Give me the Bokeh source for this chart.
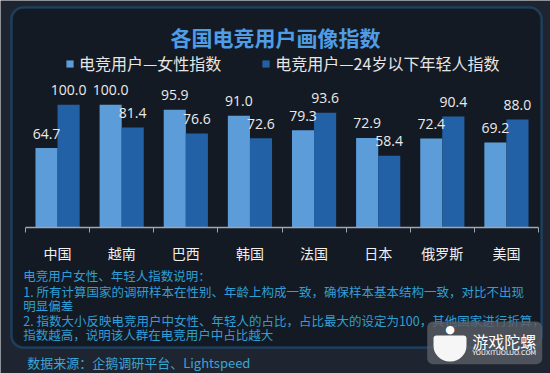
from bokeh.plotting import figure
from bokeh.models import (ColumnDataSource, Range1d, LinearAxis, FixedTicker,
                          LabelSet, Label, Legend, LegendItem, BoxAnnotation)
from bokeh.core.properties import value
from bokeh.transform import dodge
from bokeh.embed import file_html
from bokeh.resources import INLINE

# ---------------- data ----------------
countries = ["中国", "越南", "巴西", "韩国", "法国", "日本", "俄罗斯", "美国"]
female_index = [64.7, 100.0, 95.9, 91.0, 79.3, 72.9, 72.4, 69.2]
youth_index = [100.0, 81.4, 76.6, 72.6, 93.6, 58.4, 90.4, 88.0]
series_names = ["电竞用户—女性指数", "电竞用户—24岁以下年轻人指数"]
title_text = "各国电竞用户画像指数"
note_lines = [
    "电竞用户女性、年轻人指数说明：",
    "1. 所有计算国家的调研样本在性别、年龄上构成一致，确保样本基本结构一致，对比不出现",
    "明显偏差",
    "2. 指数大小反映电竞用户中女性、年轻人的占比，占比最大的设定为100，其他国家进行折算，",
    "指数越高，说明该人群在电竞用户中占比越大",
]
source_text = "数据来源：企鹅调研平台、Lightspeed"
watermark_text = "游戏陀螺"
watermark_sub = "YOUXITUOLUO.COM"

CJK = "Noto Sans CJK SC"
OUTER_BG = "#1e2530"
INNER_BG = "#141a23"
LIGHT = "#5c9dd9"
DARK = "#2361a6"
NOTE_COLOR = "#2f9fd6"

n = len(countries)
centers = [i + 0.5 for i in range(n)]  # category slot centres on the x scale

src = ColumnDataSource(dict(
    pos=centers,
    country=countries,
    female=female_index,
    youth=youth_index,
    female_lbl=[f"{v:.1f}" for v in female_index],
    youth_lbl=[f"{v:.1f}" for v in youth_index],
))

W, H = 550, 373
PX_X = 64.125   # px per category slot
PX_Y = 1.224    # px per index unit
LEFT = 25       # left edge of first category slot
BASE = 226.7    # baseline, px from top of canvas


def sy(y_from_top):
    return H - y_from_top


p = figure(width=W, height=H,
           x_range=Range1d(-LEFT / PX_X, n + (W - LEFT - n * PX_X) / PX_X),
           y_range=Range1d(-(H - BASE) / PX_Y, BASE / PX_Y),
           output_backend="svg", toolbar_location=None,
           x_axis_location=None, y_axis_location=None,
           min_border_left=0, min_border_right=0, min_border_top=0, min_border_bottom=0,
           background_fill_color=OUTER_BG, border_fill_color=OUTER_BG)
p.grid.visible = False
p.outline_line_color = None

# rounded panel behind everything
panel = BoxAnnotation(left=11, right=541, top=sy(7), bottom=sy(347),
                      left_units="screen", right_units="screen",
                      top_units="screen", bottom_units="screen",
                      fill_color=INNER_BG, fill_alpha=1.0,
                      line_color="#2a88d2", line_width=2.5,
                      border_radius=12, level="underlay")
p.add_layout(panel)

off = 0.172
bw = 0.345
r1 = p.vbar(x=dodge("pos", -off), top="female", width=bw,
            source=src, fill_color=LIGHT, line_color=None)
r2 = p.vbar(x=dodge("pos", off), top="youth", width=bw,
            source=src, fill_color=DARK, line_color=None)

for fld, lbl, o in (("female", "female_lbl", -off), ("youth", "youth_lbl", off)):
    p.add_layout(LabelSet(x=dodge("pos", o), y=fld, text=lbl,
                          source=src, y_offset=14.5, text_align="center",
                          text_baseline="middle", text_font=value("Open Sans"),
                          text_font_size=value("14px"), text_color="#ebebeb"))

# x axis at the baseline: labels at category centres, tick marks at boundaries
ax = LinearAxis(fixed_location=0, bounds=(0, n),
                ticker=FixedTicker(ticks=centers, minor_ticks=list(range(n + 1))),
                major_label_overrides={c: name for c, name in zip(centers, countries)},
                axis_line_color="#9ea6b0", axis_line_width=1.5,
                major_tick_line_color=None, major_tick_in=0, major_tick_out=0,
                minor_tick_line_color="#9ea6b0", minor_tick_in=0, minor_tick_out=5,
                major_label_text_font=CJK, major_label_text_font_size="14px",
                major_label_text_color="#f0f0f0", major_label_standoff=11)
p.add_layout(ax, "below")

# title
p.add_layout(Label(x=275, y=sy(36.3), x_units="screen", y_units="screen", text=title_text,
                   text_font=CJK, text_font_size="21px", text_font_style="bold",
                   text_color="#4f9de6", text_align="center", text_baseline="middle"))

# legend
legend = Legend(items=[LegendItem(label=series_names[0], renderers=[r1]),
                       LegendItem(label=series_names[1], renderers=[r2])],
                orientation="horizontal", location=(65, sy(75)),
                padding=0, margin=0, spacing=40,
                glyph_width=9, glyph_height=9, label_standoff=5, label_height=18,
                label_text_font=CJK, label_text_font_size="16px",
                label_text_color="#e6e6e6", label_text_baseline="middle",
                background_fill_alpha=0, border_line_color=None)
p.add_layout(legend)

# notes below the chart
note_y = [275.3, 291.3, 304.7, 320.3, 333.7]
for txt, yy in zip(note_lines, note_y):
    p.add_layout(Label(x=22.7, y=sy(yy), x_units="screen", y_units="screen", text=txt,
                       text_font=CJK, text_font_size="12.5px", text_color=NOTE_COLOR,
                       text_baseline="middle"))

p.add_layout(Label(x=26.7, y=sy(362), x_units="screen", y_units="screen", text=source_text,
                   text_font=CJK, text_font_size="13px", text_color="#3aa6d6",
                   text_baseline="middle"))

# watermark
wm = BoxAnnotation(left=426.7, right=541.7, top=sy(321), bottom=sy(363.7),
                   left_units="screen", right_units="screen",
                   top_units="screen", bottom_units="screen",
                   fill_color="#5a5e66", fill_alpha=0.8, line_color=None,
                   border_radius=6, level="overlay")
p.add_layout(wm)
bowl = BoxAnnotation(left=433, right=466, top=sy(335), bottom=sy(361),
                     left_units="screen", right_units="screen",
                     top_units="screen", bottom_units="screen",
                     fill_color="#ffffff", fill_alpha=0.95, line_color=None,
                     border_radius=(3, 3, 16, 16), level="overlay")
p.add_layout(bowl)
p.add_layout(Label(x=449.5, y=sy(329), x_units="screen", y_units="screen", text="●",
                   text_font="DejaVu Sans", text_font_size="11px", text_color="#ffffff",
                   text_align="center", text_baseline="middle", level="overlay"))
p.add_layout(Label(x=471.7, y=sy(340), x_units="screen", y_units="screen", text=watermark_text,
                   text_font=CJK, text_font_size="16px", text_color="#ffffff",
                   text_baseline="middle", level="overlay"))
p.add_layout(Label(x=471.7, y=sy(352.5), x_units="screen", y_units="screen", text=watermark_sub,
                   text_font="DejaVu Sans", text_font_size="6.5px", text_color="#ffffff",
                   text_baseline="middle", level="overlay"))

html = file_html(p, INLINE)
html = html.replace("<body>", '<body style="background-color:%s;">' % OUTER_BG, 1)
open("out.html", "w").write(html)
